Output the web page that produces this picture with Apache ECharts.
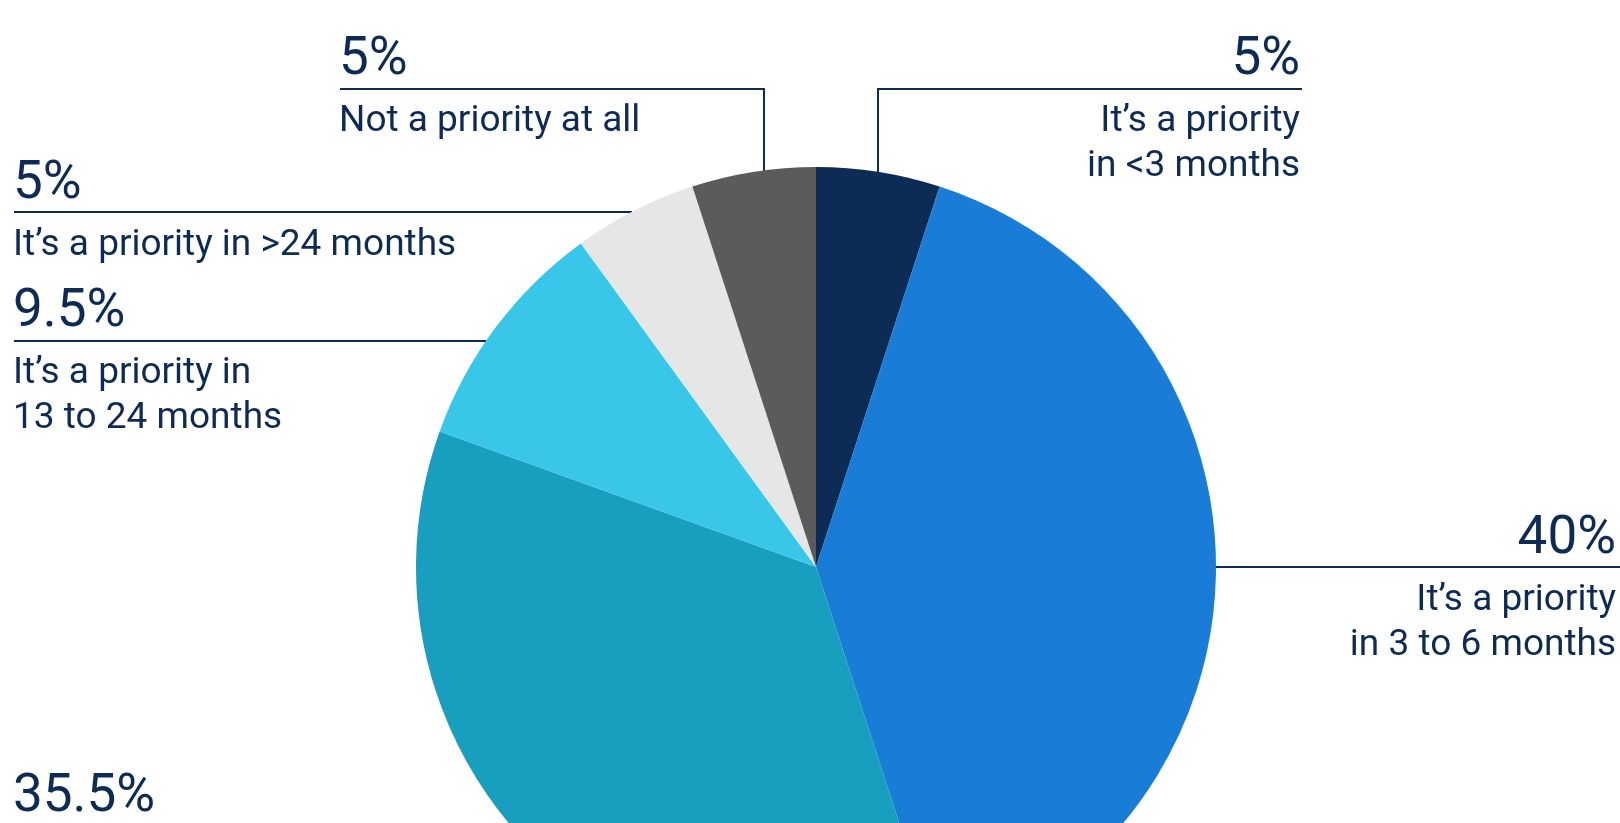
<!DOCTYPE html>
<html><head><meta charset="utf-8">
<script src="https://cdn.jsdelivr.net/npm/echarts@6/dist/echarts.min.js"></script>
<style>html,body{margin:0;padding:0;background:#fff;overflow:hidden}#c{width:1620px;height:823px}</style>
</head><body><div id="c"></div>
<script>
// ---- data ----
const categories = [
  "It’s a priority in <3 months",
  "It’s a priority in 3 to 6 months",
  "It’s a priority in 7 to 12 months",
  "It’s a priority in 13 to 24 months",
  "It’s a priority in >24 months",
  "Not a priority at all"
];
const values = [5, 40, 35.5, 9.5, 5, 5];
const labelTexts = [
  ["It’s a priority", "in <3 months"],
  ["It’s a priority", "in 3 to 6 months"],
  ["It’s a priority", "in 7 to 12 months"],
  ["It’s a priority in", "13 to 24 months"],
  ["It’s a priority in >24 months"],
  ["Not a priority at all"]
];
const colors = ['#0c2b55', '#197dd8', '#189ebf', '#38c6e9', '#e6e6e6', '#5b5b5b'];

// ---- label layout (positions only) ----
const labelPos = [
  { align: 'right', x: 1300, y: 22,    line: [[878, 212], [878, 89], [1302, 89]] },
  { align: 'right', x: 1616, y: 501.5, line: [[1216, 567], [1620, 567]] },
  { align: 'left',  x: 13,   y: 759.5, line: [[511, 826], [14, 826]] },
  { align: 'left',  x: 13,   y: 274.5, line: [[486, 341], [14, 341]] },
  { align: 'left',  x: 13,   y: 146.5, line: [[632, 212], [14, 212]] },
  { align: 'left',  x: 339,  y: 22.5,  line: [[764, 172], [764, 89], [340, 89]] }
];

const navy = '#0d2b55';
const chart = echarts.init(document.getElementById('c'), null, { renderer: 'canvas' });
const data = categories.map((name, i) => ({
  name, value: values[i],
  itemStyle: { color: colors[i] },
  label: { align: labelPos[i].align }
}));

chart.setOption({
  animation: false,
  backgroundColor: '#ffffff',
  series: [{
    type: 'pie',
    center: [816, 567],
    radius: 400,
    startAngle: 90,
    clockwise: true,
    avoidLabelOverlap: false,
    silent: true,
    data,
    itemStyle: { borderWidth: 0 },
    label: {
      show: true,
      position: 'outside',
      formatter: p => {
        const lines = labelTexts[p.dataIndex].map(t => '{t|' + t + '}').join('\n');
        return '{v|' + p.value + '%}\n' + lines;
      },
      rich: {
        v: { fontFamily: 'Roboto', fontWeight: 400, fontSize: 53, lineHeight: 77, color: navy },
        t: { fontFamily: 'Roboto', fontWeight: 400, fontSize: 37, lineHeight: 45, color: navy }
      }
    },
    labelLine: {
      show: true,
      smooth: false,
      lineStyle: { color: navy, width: 2 }
    },
    labelLayout: params => {
      const L = labelPos[params.dataIndex];
      return {
        x: L.x, y: L.y,
        align: L.align,
        verticalAlign: 'top',
        labelLinePoints: L.line
      };
    }
  }]
});
</script>
</body></html>
